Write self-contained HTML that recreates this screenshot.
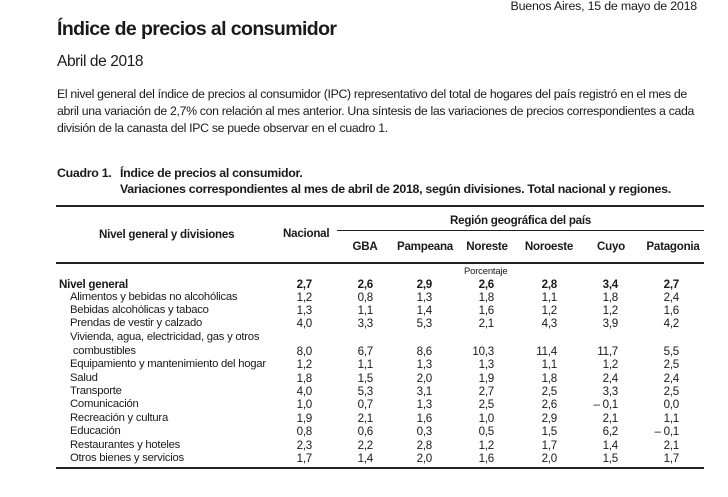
<!DOCTYPE html>
<html><head><meta charset="utf-8"><style>
body{margin:0;width:728px;height:497px;background:#fff;position:relative;overflow:hidden;font-family:"Liberation Sans",Arial,sans-serif;color:#1a1a1a}
.a{position:absolute;white-space:nowrap;line-height:1}
.t{font-size:11.6px;letter-spacing:-0.25px}
.t2{font-size:11.3px;letter-spacing:-0.25px}
.r{text-align:right;width:60px}
.c{text-align:center;width:80px}
.b{font-weight:bold}
.hr{position:absolute;background:#222}
</style></head><body>
<div class="a" style="right:31px;top:0px;font-size:12.4px;letter-spacing:-0.2px">Buenos Aires, 15 de mayo de 2018</div>
<div class="a b" style="left:57px;top:20px;font-size:19.5px;letter-spacing:-0.6px">Índice de precios al consumidor</div>
<div class="a" style="left:57px;top:54px;font-size:15.5px;letter-spacing:-0.4px">Abril de 2018</div>
<div class="a" style="left:57px;top:88px;font-size:12.3px;letter-spacing:-0.32px">El nivel general del índice de precios al consumidor (IPC) representativo del total de hogares del país registró en el mes de</div>
<div class="a" style="left:57px;top:105px;font-size:12.3px;letter-spacing:-0.32px">abril una variación de 2,7% con relación al mes anterior. Una síntesis de las variaciones de precios correspondientes a cada</div>
<div class="a" style="left:57px;top:122px;font-size:12.3px;letter-spacing:-0.32px">división de la canasta del IPC se puede observar en el cuadro 1.</div>
<div class="a b" style="left:57px;top:167px;font-size:12.4px;letter-spacing:-0.3px">Cuadro 1.</div>
<div class="a b" style="left:120px;top:167px;font-size:12.4px;letter-spacing:-0.3px">Índice de precios al consumidor.</div>
<div class="a b" style="left:120px;top:183px;font-size:12.4px;letter-spacing:-0.3px">Variaciones correspondientes al mes de abril de 2018, según divisiones. Total nacional y regiones.</div>
<div class="hr" style="left:56px;top:205px;width:648px;height:2px"></div>
<div class="hr" style="left:337px;top:230px;width:367px;height:1px"></div>
<div class="hr" style="left:56px;top:262px;width:648px;height:2px"></div>
<div class="hr" style="left:56px;top:467px;width:648px;height:2px"></div>
<div class="a t b" style="left:99px;top:229px">Nivel general y divisiones</div>
<div class="a t b" style="left:283px;top:228px">Nacional</div>
<div class="a t b" style="left:450px;top:215px">Región geográfica del país</div>
<div class="a t b c" style="left:325px;top:241px">GBA</div>
<div class="a t b c" style="left:385px;top:241px">Pampeana</div>
<div class="a t b c" style="left:447px;top:241px">Noreste</div>
<div class="a t b c" style="left:509px;top:241px">Noroeste</div>
<div class="a t b c" style="left:571px;top:241px">Cuyo</div>
<div class="a t b c" style="left:633px;top:241px">Patagonia</div>
<div class="a" style="left:464px;top:267px;font-size:9.5px;letter-spacing:-0.2px">Porcentaje</div>
<div id="rows"></div>
<script>
var rows=[
["Nivel general",1,285,"2,7","2,6","2,9","2,6","2,8","3,4","2,7"],
["Alimentos y bebidas no alcohólicas",0,298,"1,2","0,8","1,3","1,8","1,1","1,8","2,4"],
["Bebidas alcohólicas y tabaco",0,311,"1,3","1,1","1,4","1,6","1,2","1,2","1,6"],
["Prendas de vestir y calzado",0,324,"4,0","3,3","5,3","2,1","4,3","3,9","4,2"],
["Vivienda, agua, electricidad, gas y otros",0,338],
[" combustibles",0,352,"8,0","6,7","8,6","10,3","11,4","11,7","5,5"],
["Equipamiento y mantenimiento del hogar",0,365,"1,2","1,1","1,3","1,3","1,1","1,2","2,5"],
["Salud",0,379,"1,8","1,5","2,0","1,9","1,8","2,4","2,4"],
["Transporte",0,392,"4,0","5,3","3,1","2,7","2,5","3,3","2,5"],
["Comunicación",0,405,"1,0","0,7","1,3","2,5","2,6","– 0,1","0,0"],
["Recreación y cultura",0,419,"1,9","2,1","1,6","1,0","2,9","2,1","1,1"],
["Educación",0,432,"0,8","0,6","0,3","0,5","1,5","6,2","– 0,1"],
["Restaurantes y hoteles",0,446,"2,3","2,2","2,8","1,2","1,7","1,4","2,1"],
["Otros bienes y servicios",0,459,"1,7","1,4","2,0","1,6","2,0","1,5","1,7"]];
var xs=[312,373,432,494,557,618,679],h="";
rows.forEach(function(r){var y=r[2]-6,b=r[1]?" b":"";
h+='<div class="a '+(r[1]?'t':'t2')+b+'" style="left:'+(r[1]?59:70)+'px;top:'+y+'px">'+r[0].replace(/^ /,"&nbsp;")+'</div>';
for(var i=0;i<7;i++)if(r[3+i])h+='<div class="a t r'+b+'" style="left:'+(xs[i]-60)+'px;top:'+y+'px">'+r[3+i]+'</div>';});
document.getElementById("rows").innerHTML=h;
</script>
</body></html>
